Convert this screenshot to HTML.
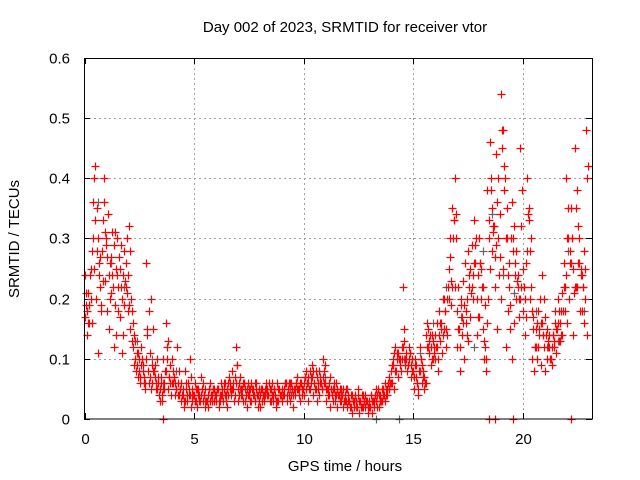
<!DOCTYPE html>
<html><head><meta charset="utf-8"><style>
body{margin:0;background:#fff;}
svg{display:block;font-family:"Liberation Sans",sans-serif;}
</style></head><body>
<svg id="chart" width="640" height="480">
<text x="345" y="32" text-anchor="middle" font-size="15">Day 002 of 2023, SRMTID for receiver vtor</text>
<text transform="translate(19,239) rotate(-90)" text-anchor="middle" font-size="15">SRMTID / TECUs</text>
<text x="345" y="471" text-anchor="middle" font-size="15">GPS time / hours</text>
<g id="grid"></g><g id="ticks"></g><g id="grey"></g><g id="red"></g>
<rect x="84.5" y="58.5" width="508" height="360.5" fill="none" stroke="#000"/>
</svg>
<script>
const xTicks=[0,5,10,15,20];
const yTicks=[0,0.1,0.2,0.3,0.4,0.5,0.6];
const yTickLabels=["0","0.1","0.2","0.3","0.4","0.5","0.6"];
const redA=[.24,.18,.16,.20,.36,.42,.30,.22,.28,.40,.30,.24,.27,.22,.31,.30,.25,.20,.28,.26,.24,.15,.12,.10,.09,.08,.12,.07,.10,.08,.07,.06,.09,.05,.04,.06,.10,.08,.05,.06,.10,.07,.05,.04,.06,.05,.08,.03,.04,.05,.04,.03,.05,.04,.06,.02,.03,.05,.04,.03,.04,.05,.03,.04,.06,.05,.07,.04,.05,.12,.05,.07,.04,.06,.05,.04,.06,.05,.03,.04,.04,.05,.03,.06,.04,.05,.03,.04,.06,.05,.05,.04,.06,.05,.03,.04,.05,.07,.04,.06,.06,.08,.07,.05,.09,.06,.07,.08,.06,.10,.06,.05,.07,.04,.05,.06,.04,.03,.05,.04,.02,.03,.04,.02,.03,.05,.03,.02,.04,.03,.03,.04,.02,.03,.05,.04,.03,.06,.05,.07,.08,.10,.12,.11,.09,.10,.13,.11,.10,.09,.08,.10,.06,.12,.09,.07,.14,.15,.12,.10,.14,.12,.18,.16,.20,.15,.22,.27,.35,.40,.18,.15,.20,.23,.16,.28,.25,.29,.33,.20,.30,.25,.15,.12,.38,.46,.35,.32,.44,.30,.54,.48,.40,.30,.22,.36,.32,.28,.24,.45,.25,.20,.40,.35,.22,.15,.12,.18,.20,.16,.20,.15,.12,.10,.14,.18,.20,.16,.14,.26,.40,.30,.35,.25,.45,.22,.30,.18,.28,.48];
const redB=[.17,.14,.19,.28,.25,.20,.11,.27,.33,.23,.18,.15,.21,.12,.14,.22,.17,.11,.19,.30,.32,.20,.16,.13,.07,.06,.10,.06,.26,.18,.20,.15,.07,.10,.03,.04,.05,.16,.13,.09,.06,.04,.12,.08,.03,.02,.05,.06,.10,.03,.06,.02,.04,.07,.03,.05,.02,.06,.03,.05,.03,.02,.06,.03,.04,.02,.05,.08,.03,.06,.03,.04,.06,.03,.02,.05,.03,.04,.06,.02,.02,.03,.05,.04,.06,.03,.04,.02,.03,.04,.03,.05,.03,.04,.06,.02,.04,.05,.03,.04,.04,.05,.03,.06,.04,.05,.03,.04,.05,.06,.03,.04,.02,.05,.03,.02,.04,.05,.02,.03,.04,.02,.01,.03,.02,.01,.02,.04,.02,.01,.02,.01,.03,.05,.02,.03,.04,.03,.04,.05,.06,.05,.08,.07,.10,.22,.09,.08,.12,.07,.05,.07,.04,.08,.06,.05,.16,.11,.09,.13,.10,.08,.13,.11,.15,.12,.25,.19,.30,.22,.12,.08,.14,.10,.18,.13,.17,.20,.26,.14,.17,.20,.10,.08,.20,.25,.28,.22,.15,.24,.20,.25,.12,.18,.15,.10,.16,.20,.17,.22,.18,.14,.28,.20,.10,.08,.15,.12,.09,.14,.08,.10,.14,.09,.12,.11,.16,.13,.21,.18,.16,.20,.26,.14,.22,.32,.18,.24,.16,.14];
const redC=[.19,.21,.24,.16,.40,.35,.26,.19,.23,.31,.27,.20,.24,.29,.25,.18,.22,.14,.23,.21,.19,.13,.09,.08,.11,.07,.09,.05,.14,.06,.05,.08,.06,.07,.05,.03,.06,.12,.07,.04,.08,.06,.04,.05,.04,.03,.06,.04,.02,.04,.03,.05,.03,.05,.04,.03,.04,.03,.05,.04,.05,.03,.04,.05,.03,.04,.06,.05,.04,.09,.04,.05,.03,.05,.04,.03,.05,.04,.05,.03,.05,.04,.04,.05,.03,.04,.05,.03,.05,.04,.04,.06,.04,.06,.04,.05,.06,.05,.06,.05,.07,.06,.05,.07,.08,.05,.06,.07,.05,.08,.05,.04,.05,.03,.04,.05,.03,.04,.03,.05,.03,.02,.03,.04,.02,.03,.02,.03,.03,.02,.02,.03,.04,.02,.04,.03,.05,.04,.06,.06,.09,.11,.10,.10,.08,.12,.10,.09,.11,.08,.07,.09,.05,.10,.07,.06,.12,.13,.10,.12,.12,.10,.16,.14,.18,.14,.20,.23,.33,.30,.15,.12,.17,.19,.14,.22,.21,.24,.29,.17,.26,.22,.13,.10,.30,.40,.31,.27,.36,.27,.45,.38,.30,.24,.19,.30,.26,.23,.20,.32,.22,.17,.34,.28,.18,.12,.10,.15,.16,.14,.17,.13,.10,.12,.13,.15,.18,.14,.18,.22,.30,.26,.30,.21,.35,.26,.24,.22,.25,.40];
const redD=[.21,.16,.25,.30,.33,.28,.24,.18,.36,.29,.34,.26,.31,.19,.24,.27,.29,.24,.22,.18,.28,.18,.14,.11,.10,.09,.08,.06,.15,.11,.09,.08,.05,.06,.07,.05,.08,.10,.07,.06,.07,.05,.06,.05,.04,.03,.04,.05,.07,.04,.05,.04,.03,.05,.04,.03,.05,.04,.05,.04,.05,.04,.05,.06,.04,.06,.05,.06,.07,.09,.06,.05,.06,.04,.06,.05,.04,.06,.04,.05,.05,.04,.05,.04,.05,.06,.05,.03,.05,.04,.04,.06,.05,.06,.05,.05,.06,.05,.06,.05,.07,.06,.08,.07,.06,.08,.05,.06,.07,.09,.05,.06,.05,.06,.04,.04,.05,.04,.03,.05,.03,.04,.03,.03,.04,.03,.04,.03,.03,.02,.04,.03,.04,.04,.03,.05,.04,.05,.06,.06,.09,.08,.11,.10,.12,.15,.10,.09,.11,.10,.09,.06,.08,.10,.08,.06,.12,.14,.14,.11,.16,.14,.15,.20,.18,.20,.30,.22,.33,.34,.22,.19,.16,.26,.20,.24,.22,.26,.30,.24,.26,.22,.19,.16,.33,.38,.32,.29,.40,.34,.48,.42,.35,.26,.30,.28,.24,.22,.20,.38,.22,.26,.33,.30,.17,.12,.16,.14,.24,.12,.14,.12,.10,.14,.16,.15,.13,.18,.22,.24,.35,.28,.30,.22,.38,.26,.25,.22,.20,.42];
const greyT=[0.1,0.6,1.2,1.8,2.4,3.1,3.6,4.2,4.9,5.5,6.3,7.1,7.8,8.6,9.4,10.2,11.0,11.7,12.4,13.2,13.9,14.6,15.3,15.9,16.5,17.2,17.8,18.2,18.6,19.1,19.6,20.1,20.6,21.1,21.6,22.1,22.5,22.8];
const greyV=[.18,.36,.26,.22,.13,.10,.06,.08,.04,.03,.04,.05,.03,.04,.05,.06,.07,.04,.02,.03,.05,.10,.11,.16,.22,.17,.12,.28,.34,.24,.21,.20,.18,.12,.13,.28,.22,.18];
const zeroRedT=[3.6,18.45,18.75,19.55,22.2];
const zeroGreyT=[13.3,14.35];
const X=t=>84.5+t*21.9, Y=v=>419-v*601.7;
const NS='http://www.w3.org/2000/svg';
function mk(tag,attrs,parent){const e=document.createElementNS(NS,tag);for(const k in attrs)e.setAttribute(k,attrs[k]);parent.appendChild(e);return e;}
const grid=document.getElementById('grid'),ticks=document.getElementById('ticks');
xTicks.forEach(t=>{const x=Math.round(X(t))+0.5;
 if(t>0){const l=mk('line',{x1:x,x2:x,y1:58,y2:419,stroke:'#a0a0a0','stroke-dasharray':'2,3'},grid);
 
 }
 mk('line',{x1:x,x2:x,y1:419,y2:413,stroke:'#000'},ticks);mk('line',{x1:x,x2:x,y1:58,y2:64,stroke:'#000'},ticks);
 const tx=mk('text',{x:x,y:444,'text-anchor':'middle','font-size':15},ticks);tx.textContent=t;
 
 });
yTicks.forEach((v,i)=>{const y=Math.round(Y(v))+0.5;
 if(i>0&&i<yTicks.length-1){const l=mk('line',{x1:84,x2:592,y1:y,y2:y,stroke:'#a0a0a0','stroke-dasharray':'2,3'},grid);
 
 }
 mk('line',{x1:84,x2:90,y1:y,y2:y,stroke:'#000'},ticks);mk('line',{x1:586,x2:592,y1:y,y2:y,stroke:'#000'},ticks);
 const tx=mk('text',{x:70,y:y+5,'text-anchor':'end','font-size':15},ticks);tx.textContent=yTickLabels[i];
 
 });
function plus(g,t,v,col){const x=Math.round(X(t))+0.5,y=Math.round(Y(v))+0.5;
 const p=mk('path',{d:`M${x-4},${y}h8M${x},${y-4}v8`,stroke:col,'stroke-width':1.2,fill:'none'},g);
 
 }
const gg=document.getElementById('grey'),rg=document.getElementById('red');
greyT.forEach((t,i)=>plus(gg,t,greyV[i],'#666'));
zeroGreyT.forEach(t=>plus(gg,t,0,'#666'));
redA.forEach((v,i)=>plus(rg,i*0.1,v,'#f00'));
redB.forEach((v,i)=>plus(rg,i*0.1+0.025,v,'#f00'));
redC.forEach((v,i)=>plus(rg,i*0.1+0.05,v,'#f00'));
redD.forEach((v,i)=>plus(rg,i*0.1+0.075,v,'#f00'));
zeroRedT.forEach(t=>plus(rg,t,0,'#f00'));
</script>
</body></html>
